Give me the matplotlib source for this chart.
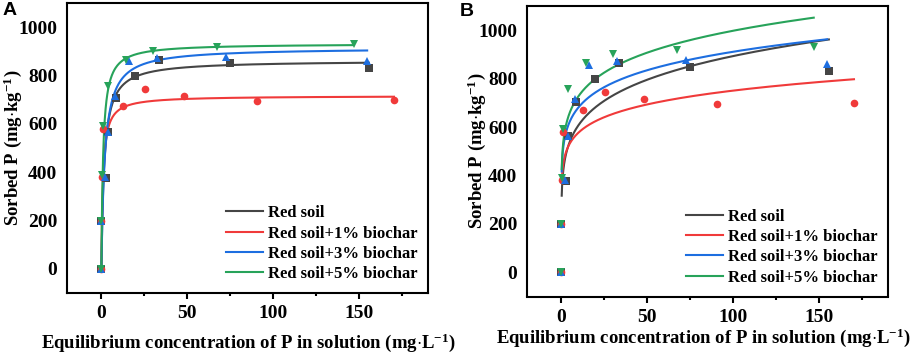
import numpy as np
import matplotlib
matplotlib.use("Agg")
import matplotlib.pyplot as plt

# ---------------- data ----------------
series_labels = ["Red soil", "Red soil+1% biochar", "Red soil+3% biochar", "Red soil+5% biochar"]
colors = ["#454545", "#f03a3a", "#1d6ee0", "#27a35a"]
markers = ["s", "o", "^", "v"]

ce_red = [0, 0, 2.5, 4.0, 8.4, 19.5, 33.7, 75.0, 155.6]
q_red = [0, 200, 377, 565, 705, 800, 863, 850, 833]

ce_red1 = [0, 0, 0.6, 1.2, 12.6, 25.3, 48.2, 90.6, 170.2]
q_red1 = [0, 200, 380, 578, 672, 744, 716, 695, 700]

ce_red3 = [0, 0, 2.0, 3.9, 8.1, 16.0, 32.6, 72.4, 154.6]
q_red3 = [0, 200, 382, 565, 715, 858, 872, 877, 860]

ce_red5 = [0, 0, 0.5, 1.2, 3.8, 14.3, 30.0, 67.0, 146.8]
q_red5 = [0, 200, 390, 590, 757, 863, 900, 920, 929]

ce_all = [ce_red, ce_red1, ce_red3, ce_red5]
q_all = [q_red, q_red1, q_red3, q_red5]

# Langmuir fit parameters (panel A): Qm, K
langmuir_qm = [862, 716, 915, 932]
langmuir_k = [0.60, 1.10, 0.51, 1.00]
# Freundlich fit parameters (panel B): Kf, 1/n
freundlich_kf = [414, 444, 510, 531]
freundlich_inv_n = [0.167, 0.114, 0.126, 0.137]

x_ticks = [0, 50, 100, 150]
y_ticks = [0, 200, 400, 600, 800, 1000]

# ---------------- plot ----------------
plt.rcParams["font.family"] = ["Liberation Serif", "DejaVu Serif"]
plt.rcParams["font.weight"] = "bold"
plt.rcParams["mathtext.fontset"] = "custom"
plt.rcParams["mathtext.rm"] = "Liberation Serif:bold"
plt.rcParams["mathtext.default"] = "rm"

fig = plt.figure(figsize=(9.13, 3.55), dpi=100)
W, H = 913, 355
axA = fig.add_axes([67 / W, 1 - 293 / H, (428 - 67) / W, (293 - 3) / H])
axB = fig.add_axes([527 / W, 1 - 296.5 / H, (888 - 527) / W, (296.5 - 6) / H])

xlabel_text = r"Equilibrium concentration of P in solution (mg$\cdot$L$^{-1}$)"
ylabel_text = r"Sorbed P (mg$\cdot$kg$^{-1}$)"

for idx, ax in enumerate([axA, axB]):
    for i in range(4):
        ce = np.array(ce_all[i], dtype=float)
        q = np.array(q_all[i], dtype=float)
        cmax = ce.max()
        if idx == 0:
            xc = np.linspace(0, cmax, 600)
            yc = langmuir_qm[i] * langmuir_k[i] * xc / (1 + langmuir_k[i] * xc)
        else:
            xc = np.geomspace(0.2, cmax, 600)
            yc = freundlich_kf[i] * xc ** freundlich_inv_n[i]
        ax.plot(xc, yc, color=colors[i], lw=1.5, label=series_labels[i], zorder=2)
        ax.plot(ce, q, linestyle="none", marker=markers[i], color=colors[i],
                markersize=5.5, markeredgewidth=0, zorder=3)
    ax.set_xlim(-20, 190)
    ax.set_ylim(-100, 1100)
    ax.set_xticks(x_ticks)
    ax.set_xticks([25, 75, 125, 175], minor=True)
    ax.set_yticks(y_ticks)
    ax.tick_params(axis="x", which="major", direction="out", length=4, width=1.5,
                   labelsize=14, pad=5)
    ax.tick_params(axis="x", which="minor", direction="out", length=2, width=1.5)
    ax.tick_params(axis="y", which="both", length=0, labelsize=14, pad=7)
    for lab in ax.get_xticklabels() + ax.get_yticklabels():
        lab.set_fontweight("bold")
    for sp in ax.spines.values():
        sp.set_linewidth(1.5)
    ax.set_ylabel(ylabel_text, fontsize=13.5, fontweight="bold")
    ax.set_xlabel(xlabel_text, fontsize=13.5, fontweight="bold")
    ax.legend(loc="lower right", frameon=False, handlelength=2.2,
              handletextpad=0.3, labelspacing=0.26, borderaxespad=0.25,
              prop={"weight": "bold", "size": 12})

# label positions (axes fraction)
axA.yaxis.set_label_coords((13 - 67) / 361, 0.5)
axB.yaxis.set_label_coords((477 - 527) / 361, 0.5)
axA.xaxis.set_label_coords((248 - 67) / 361, -(343 - 293) / 290)
axB.xaxis.set_label_coords((703 - 527) / 361, -(338 - 296.5) / 290.5)
axA.xaxis.label.set_va("center")
axB.xaxis.label.set_va("center")
axA.yaxis.label.set_va("center")
axB.yaxis.label.set_va("center")

fig.text(3 / W, 1 - 10.5 / H, "A", fontsize=14, fontweight="bold",
         family=["Liberation Sans", "DejaVu Sans"], va="center", ha="left")
fig.text(460 / W, 1 - 11.5 / H, "B", fontsize=14, fontweight="bold",
         family=["Liberation Sans", "DejaVu Sans"], va="center", ha="left")

fig.savefig("out.png", dpi=100)
